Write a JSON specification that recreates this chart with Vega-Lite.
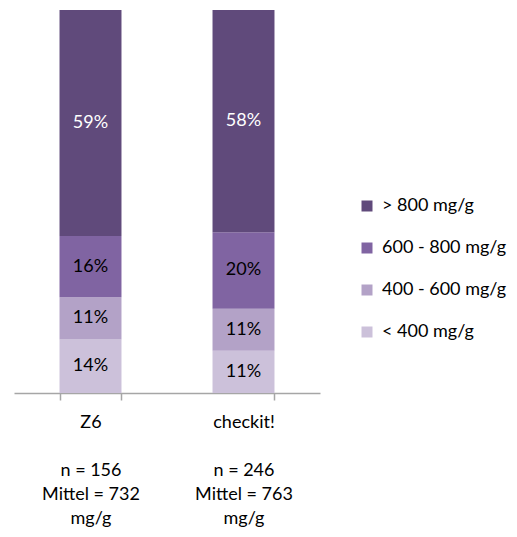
{
  "$schema": "https://vega.github.io/schema/vega-lite/v6.json",
  "width": 306,
  "height": 383,
  "padding": {"left": 14, "top": 10, "right": 197, "bottom": 144},
  "autosize": {"type": "none"},
  "config": {"view": {"stroke": null}, "font": "Lato"},
  "data": {
    "values": [
      {"gruppe": "Z6", "klasse": "< 400 mg/g", "ord": 1, "anteil": 0.14},
      {"gruppe": "Z6", "klasse": "400 - 600 mg/g", "ord": 2, "anteil": 0.11},
      {"gruppe": "Z6", "klasse": "600 - 800 mg/g", "ord": 3, "anteil": 0.16},
      {"gruppe": "Z6", "klasse": "> 800 mg/g", "ord": 4, "anteil": 0.59},
      {"gruppe": "checkit!", "klasse": "< 400 mg/g", "ord": 1, "anteil": 0.11},
      {"gruppe": "checkit!", "klasse": "400 - 600 mg/g", "ord": 2, "anteil": 0.11},
      {"gruppe": "checkit!", "klasse": "600 - 800 mg/g", "ord": 3, "anteil": 0.20},
      {"gruppe": "checkit!", "klasse": "> 800 mg/g", "ord": 4, "anteil": 0.58}
    ]
  },
  "encoding": {
    "x": {
      "field": "gruppe",
      "type": "nominal",
      "sort": ["Z6", "checkit!"],
      "scale": {"paddingInner": 0.595, "paddingOuter": 0.2975},
      "axis": {
        "title": null,
        "labelAngle": 0,
        "domainColor": "#a6a6a6",
        "domainWidth": 1.5,
        "tickColor": "#a6a6a6",
        "tickWidth": 1.5,
        "tickSize": 7,
        "tickBand": "extent",
        "labelFontSize": 18,
        "labelColor": "#000000",
        "labelPadding": 13,
        "labelLineHeight": 24,
        "labelExpr": "datum.value === 'Z6' ? ['Z6', '\u2800', 'n = 156', 'Mittel = 732', 'mg/g'] : datum.value === 'checkit!' ? ['checkit!', '\u2800', 'n = 246', 'Mittel = 763', 'mg/g'] : ''"
      }
    },
    "y": {
      "field": "anteil",
      "type": "quantitative",
      "stack": "zero",
      "scale": {"domain": [0, 1]},
      "axis": null
    },
    "order": {"field": "ord", "type": "quantitative"}
  },
  "layer": [
    {
      "mark": {"type": "bar"},
      "encoding": {
        "color": {
          "field": "klasse",
          "type": "nominal",
          "sort": ["> 800 mg/g", "600 - 800 mg/g", "400 - 600 mg/g", "< 400 mg/g"],
          "scale": {
            "domain": ["> 800 mg/g", "600 - 800 mg/g", "400 - 600 mg/g", "< 400 mg/g"],
            "range": ["#604a7b", "#8064a2", "#b3a2c7", "#ccc1da"]
          },
          "legend": {
            "title": null,
            "orient": "none",
            "legendX": 344,
            "legendY": 187,
            "symbolType": "square",
            "symbolSize": 121,
            "symbolStrokeWidth": 0,
            "labelFontSize": 18,
            "labelColor": "#000000",
            "labelOffset": 6,
            "rowPadding": 24,
            "padding": 0
          }
        }
      }
    },
    {
      "mark": {"type": "text", "fontSize": 18},
      "encoding": {
        "y": {
          "field": "anteil",
          "type": "quantitative",
          "stack": "zero",
          "bandPosition": 0.5
        },
        "text": {"field": "anteil", "type": "quantitative", "format": ".0%"},
        "color": {
          "condition": {"test": "datum.klasse === '> 800 mg/g'", "value": "#ffffff"},
          "value": "#000000"
        }
      }
    }
  ]
}
